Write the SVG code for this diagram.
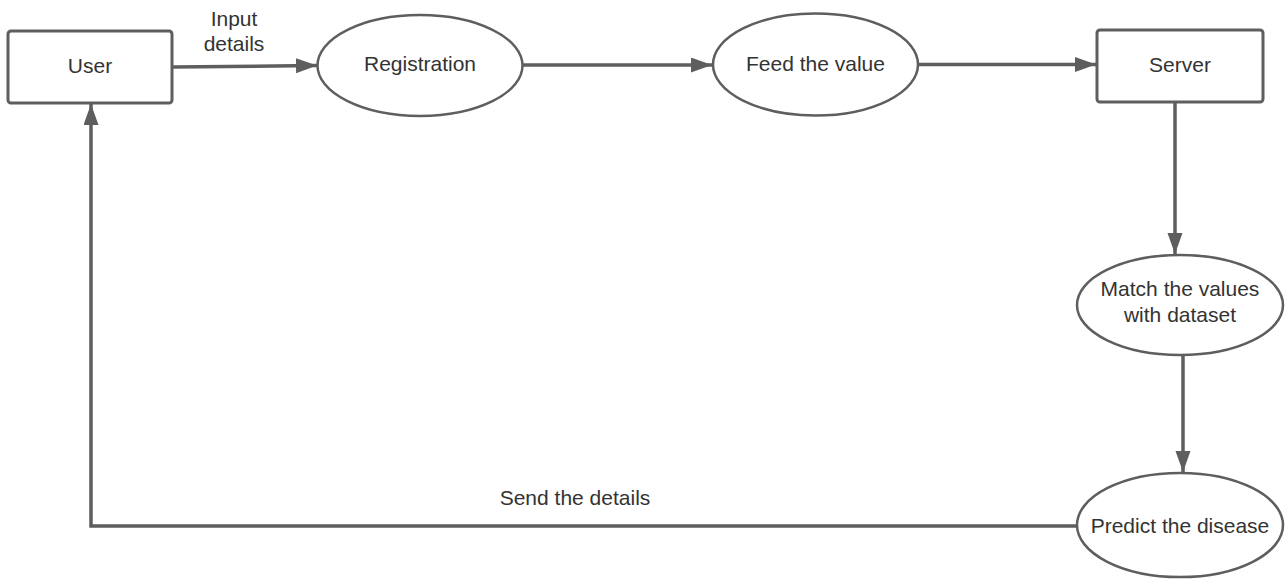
<svg xmlns="http://www.w3.org/2000/svg" width="1288" height="579" viewBox="0 0 1288 579">
  <style>
    .box { fill: #ffffff; stroke: #5e5e5e; stroke-width: 3; }
    .oval { fill: #ffffff; stroke: #5e5e5e; stroke-width: 2.5; }
    .lbl { font-family: "Liberation Sans", Arial, sans-serif; font-size: 21px; fill: #333333; text-anchor: middle; }
    .edge { fill: none; stroke: #5e5e5e; stroke-width: 3.5; }
  </style>
  <defs>
    <marker id="arrow" markerUnits="userSpaceOnUse" markerWidth="22" markerHeight="16" refX="21" refY="7.5" orient="auto">
      <path d="M0,0 L21,7.5 L0,15 Z" fill="#5e5e5e"/>
    </marker>
  </defs>
  <rect width="1288" height="579" fill="#ffffff"/>

  <g id="connectors">
    <path class="edge" d="M172,67 L317,65.5" marker-end="url(#arrow)"/>
    <path class="edge" d="M522,65 L712,65" marker-end="url(#arrow)"/>
    <path class="edge" d="M918,64.5 L1096,64.5" marker-end="url(#arrow)"/>
    <path class="edge" d="M1175,103 L1175,254" marker-end="url(#arrow)"/>
    <path class="edge" d="M1183,355 L1183,472" marker-end="url(#arrow)"/>
    <path class="edge" d="M1078,526 L91,526 L91,104" marker-end="url(#arrow)"/>
    <text class="lbl" x="234" y="26">Input</text>
    <text class="lbl" x="234" y="51">details</text>
    <text class="lbl" x="575" y="505">Send the details</text>
  </g>

  <g id="user">
    <rect class="box" x="8" y="31" width="164" height="72" rx="3"/>
    <text class="lbl" x="90" y="73">User</text>
  </g>

  <g id="registration">
    <ellipse class="oval" cx="420" cy="65.5" rx="102.5" ry="50.5"/>
    <text class="lbl" x="420" y="71">Registration</text>
  </g>

  <g id="feed-value">
    <ellipse class="oval" cx="815.5" cy="64.5" rx="102.5" ry="51"/>
    <text class="lbl" x="815.5" y="71">Feed the value</text>
  </g>

  <g id="server">
    <rect class="box" x="1097" y="30" width="166" height="72" rx="3"/>
    <text class="lbl" x="1180" y="72">Server</text>
  </g>

  <g id="match-values">
    <ellipse class="oval" cx="1180" cy="305" rx="103" ry="50"/>
    <text class="lbl" x="1180" y="296">Match the values</text>
    <text class="lbl" x="1180" y="322">with dataset</text>
  </g>

  <g id="predict-disease">
    <ellipse class="oval" cx="1180" cy="525" rx="103" ry="52"/>
    <text class="lbl" x="1180" y="533">Predict the disease</text>
  </g>
</svg>
